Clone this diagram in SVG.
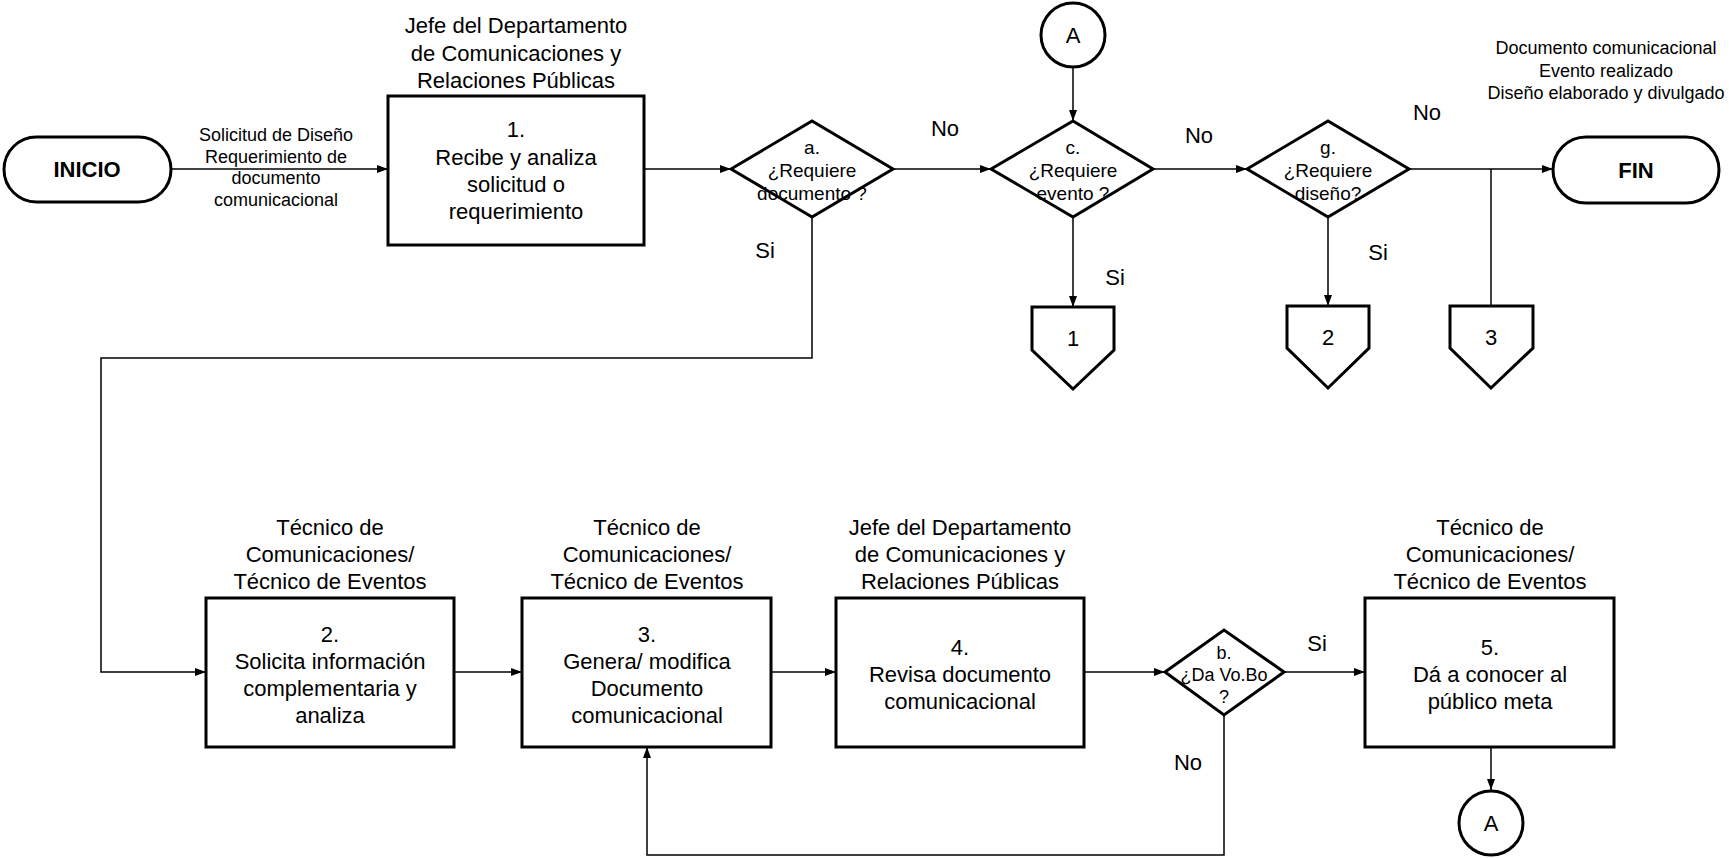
<svg xmlns="http://www.w3.org/2000/svg" width="1729" height="858" viewBox="0 0 1729 858">
<defs>
<marker id="arr" markerUnits="userSpaceOnUse" markerWidth="12" markerHeight="10" refX="11" refY="5" orient="auto">
<path d="M0,1 L11,5 L0,9 Z" fill="#000"/>
</marker>
<style>
.shape{fill:#fff;stroke:#000;stroke-width:3}
.conn{fill:none;stroke:#000;stroke-width:1.5}
text{font-family:"Liberation Sans",Arial,sans-serif;fill:#000;text-anchor:middle}
.t22{font-size:22px}
.t19{font-size:19px}
.t18{font-size:18px}
.b22{font-size:22px;font-weight:bold}
</style>
</defs>
<rect width="1729" height="858" fill="#fff"/>
<g id="connectors">
<path class="conn" d="M171,169 H388" marker-end="url(#arr)"/>
<path class="conn" d="M644,169 H731" marker-end="url(#arr)"/>
<path class="conn" d="M893,169 H991" marker-end="url(#arr)"/>
<path class="conn" d="M1153,169 H1247" marker-end="url(#arr)"/>
<path class="conn" d="M1409,169 H1553" marker-end="url(#arr)"/>
<path class="conn" d="M1491,169 V306"/>
<path class="conn" d="M1073,67 V121" marker-end="url(#arr)"/>
<path class="conn" d="M1073,217 V307" marker-end="url(#arr)"/>
<path class="conn" d="M1328,217 V306" marker-end="url(#arr)"/>
<path class="conn" d="M812,217 V358 H101 V672 H206" marker-end="url(#arr)"/>
<path class="conn" d="M454,672 H522" marker-end="url(#arr)"/>
<path class="conn" d="M771,672 H836" marker-end="url(#arr)"/>
<path class="conn" d="M1084,672 H1165" marker-end="url(#arr)"/>
<path class="conn" d="M1284,672 H1365" marker-end="url(#arr)"/>
<path class="conn" d="M1491,747 V790" marker-end="url(#arr)"/>
<path class="conn" d="M1224,715 V855 H647 V747" marker-end="url(#arr)"/>
<text class="t18" x="276" y="141">Solicitud de Diseño</text>
<text class="t18" x="276" y="163">Requerimiento de</text>
<text class="t18" x="276" y="184">documento</text>
<text class="t18" x="276" y="206">comunicacional</text>
<text class="t22" x="945" y="136">No</text>
<text class="t22" x="1199" y="143">No</text>
<text class="t22" x="1427" y="120">No</text>
<text class="t22" x="765" y="258">Si</text>
<text class="t22" x="1115" y="285">Si</text>
<text class="t22" x="1378" y="260">Si</text>
<text class="t22" x="1317" y="651">Si</text>
<text class="t22" x="1188" y="770">No</text>
</g>
<g id="inicio">
<rect class="shape" x="4" y="137" width="167" height="65" rx="32.5"/>
<text class="b22" x="87" y="177">INICIO</text>
</g>
<g id="paso1">
<text class="t22" x="516" y="33">Jefe del Departamento</text>
<text class="t22" x="516" y="61">de Comunicaciones y</text>
<text class="t22" x="516" y="88">Relaciones Públicas</text>
<rect class="shape" x="388" y="96" width="256" height="149"/>
<text class="t22" x="516" y="137">1.</text>
<text class="t22" x="516" y="165">Recibe y analiza</text>
<text class="t22" x="516" y="192">solicitud o</text>
<text class="t22" x="516" y="219">requerimiento</text>
</g>
<g id="decision-a">
<polygon class="shape" points="731,169 812,121 893,169 812,217"/>
<text class="t19" x="812" y="154">a.</text>
<text class="t19" x="812" y="177">¿Requiere</text>
<text class="t19" x="812" y="200">documento ?</text>
</g>
<g id="conector-a-top">
<circle class="shape" cx="1073" cy="35" r="32"/>
<text class="t22" x="1073" y="43">A</text>
</g>
<g id="decision-c">
<polygon class="shape" points="991,169 1073,121 1153,169 1073,217"/>
<text class="t19" x="1073" y="154">c.</text>
<text class="t19" x="1073" y="177">¿Requiere</text>
<text class="t19" x="1073" y="200">evento ?</text>
</g>
<g id="decision-g">
<polygon class="shape" points="1247,169 1328,121 1409,169 1328,217"/>
<text class="t19" x="1328" y="154">g.</text>
<text class="t19" x="1328" y="177">¿Requiere</text>
<text class="t19" x="1328" y="200">diseño?</text>
</g>
<g id="fin">
<text class="t18" x="1606" y="54">Documento comunicacional</text>
<text class="t18" x="1606" y="77">Evento realizado</text>
<text class="t18" x="1606" y="99">Diseño elaborado y divulgado</text>
<rect class="shape" x="1553" y="137" width="166" height="66" rx="33"/>
<text class="b22" x="1636" y="178">FIN</text>
</g>
<g id="off-page-1">
<polygon class="shape" points="1032,307 1114,307 1114,350 1073,389 1032,350"/>
<text class="t22" x="1073" y="346">1</text>
</g>
<g id="off-page-2">
<polygon class="shape" points="1287,306 1369,306 1369,348 1328,388 1287,348"/>
<text class="t22" x="1328" y="345">2</text>
</g>
<g id="off-page-3">
<polygon class="shape" points="1450,306 1533,306 1533,348 1491,388 1450,348"/>
<text class="t22" x="1491" y="345">3</text>
</g>
<g id="paso2">
<text class="t22" x="330" y="535">Técnico de</text>
<text class="t22" x="330" y="562">Comunicaciones/</text>
<text class="t22" x="330" y="589">Técnico de Eventos</text>
<rect class="shape" x="206" y="598" width="248" height="149"/>
<text class="t22" x="330" y="642">2.</text>
<text class="t22" x="330" y="669">Solicita información</text>
<text class="t22" x="330" y="696">complementaria y</text>
<text class="t22" x="330" y="723">analiza</text>
</g>
<g id="paso3">
<text class="t22" x="647" y="535">Técnico de</text>
<text class="t22" x="647" y="562">Comunicaciones/</text>
<text class="t22" x="647" y="589">Técnico de Eventos</text>
<rect class="shape" x="522" y="598" width="249" height="149"/>
<text class="t22" x="647" y="642">3.</text>
<text class="t22" x="647" y="669">Genera/ modifica</text>
<text class="t22" x="647" y="696">Documento</text>
<text class="t22" x="647" y="723">comunicacional</text>
</g>
<g id="paso4">
<text class="t22" x="960" y="535">Jefe del Departamento</text>
<text class="t22" x="960" y="562">de Comunicaciones y</text>
<text class="t22" x="960" y="589">Relaciones Públicas</text>
<rect class="shape" x="836" y="598" width="248" height="149"/>
<text class="t22" x="960" y="655">4.</text>
<text class="t22" x="960" y="682">Revisa documento</text>
<text class="t22" x="960" y="709">comunicacional</text>
</g>
<g id="decision-b">
<polygon class="shape" points="1165,672 1224,630 1284,672 1224,715"/>
<text class="t18" x="1224" y="659">b.</text>
<text class="t18" x="1224" y="681">¿Da Vo.Bo</text>
<text class="t18" x="1224" y="703">?</text>
</g>
<g id="paso5">
<text class="t22" x="1490" y="535">Técnico de</text>
<text class="t22" x="1490" y="562">Comunicaciones/</text>
<text class="t22" x="1490" y="589">Técnico de Eventos</text>
<rect class="shape" x="1365" y="598" width="249" height="149"/>
<text class="t22" x="1490" y="655">5.</text>
<text class="t22" x="1490" y="682">Dá a conocer al</text>
<text class="t22" x="1490" y="709">público meta</text>
</g>
<g id="conector-a-bottom">
<circle class="shape" cx="1491" cy="823" r="32"/>
<text class="t22" x="1491" y="831">A</text>
</g>
</svg>
